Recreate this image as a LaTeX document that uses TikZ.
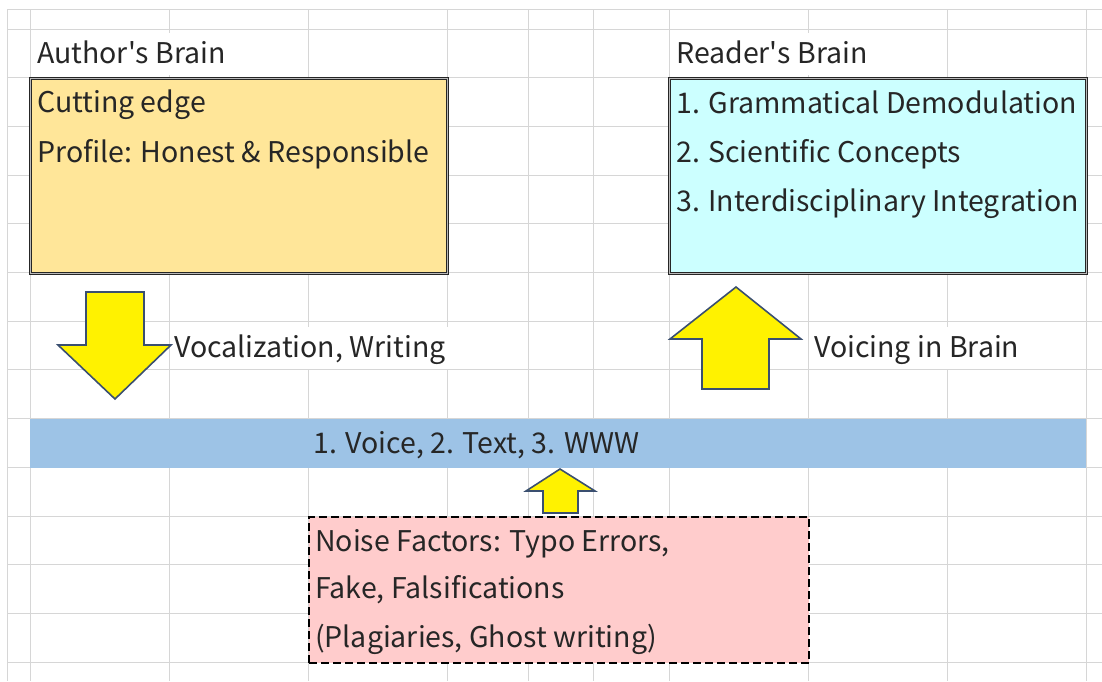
\documentclass[tikz,border=0pt]{standalone}
\usepackage{fontspec}
\setmainfont{Noto Sans CJK JP}
\definecolor{gridgray}{HTML}{D6D6D6}
\definecolor{inkgray}{HTML}{262626}
\definecolor{authorfill}{HTML}{FFE699}
\definecolor{readerfill}{HTML}{CCFFFF}
\definecolor{wwwfill}{HTML}{9DC3E6}
\definecolor{noisefill}{HTML}{FFCCCC}
\definecolor{arrowline}{HTML}{3A4F70}
\tikzset{
  celltext/.style={anchor=base west, inner sep=0pt, text=inkgray,
    font=\fontsize{28.5}{34}\selectfont},
  overtext/.style={celltext, fill=white, inner xsep=4pt, text height=30pt, text depth=12pt},
  brainbox/.style={anchor=north west, draw=black!85, line width=1.1pt,
    double=gray!55, double distance=1.6pt, inner sep=0pt},
  blockarrow/.style={fill=yellow, draw=arrowline, line width=1.6pt, line join=miter}
}
\begin{document}
\begin{tikzpicture}[x=1pt, y=-1pt]
\useasboundingbox (0,0) rectangle (1102,681);
% sheet grid
\foreach \gx in {7,30,169,308,447,528,593,669,808,947,1086}
  \draw[gridgray, line width=1pt] (\gx,9) -- (\gx,681);
\draw[gridgray, line width=1pt] (7,9) -- (1102,9);
\foreach \k in {0,...,13}
  \draw[gridgray, line width=1pt] (7,29+48.7*\k) -- (1102,29+48.7*\k);
% titles and arrow labels
\node[overtext] (authortitle) at (33,63) {Author\textquotesingle s Brain};
\node[overtext] (readertitle) at (672,63) {Reader\textquotesingle s Brain};
\node[overtext] (vocal) at (170,357) {Vocalization, Writing};
\node[overtext] (voicing) at (810,357) {Voicing in Brain};
% brains
\node[brainbox, fill=authorfill, minimum width=417pt, minimum height=195pt] (author) at (30,78) {};
\node[celltext] (cutting) at (37,112) {Cutting edge};
\node[celltext] (profile) at (37,162) {Profile: Honest \& Responsible};
\node[brainbox, fill=readerfill, minimum width=417pt, minimum height=195pt] (reader) at (669,78) {};
\node[celltext] (grammar) at (676,113) {1. Grammatical Demodulation};
\node[celltext] (concepts) at (676,162) {2. Scientific Concepts};
\node[celltext] (integration) at (676,211) {3. Interdisciplinary Integration};
% medium
\node[anchor=north west, fill=wwwfill, minimum width=1056pt, minimum height=49pt, inner sep=0pt] (medium) at (30,419) {};
\node[celltext] (mediumtext) at (313,453) {1. Voice, 2. Text, 3. WWW};
% noise
\node[anchor=north west, fill=noisefill, draw=black, line width=2.4pt, dash pattern=on 8pt off 4pt,
  minimum width=500pt, minimum height=146pt, inner sep=0pt] (noise) at (308,516) {};
\node[celltext] (noiseA) at (315,551) {Noise Factors: Typo Errors,};
\node[celltext] (noiseB) at (315,598) {Fake, Falsifications};
\node[celltext] (noiseC) at (315,647) {(Plagiaries, Ghost writing)};
% block arrows
\draw[blockarrow] (86,292) -- (144,292) -- (144,345) -- (171,345) -- (115,399)
  -- (58,345) -- (86,345) -- cycle;
\draw[blockarrow] (702,389) -- (769,389) -- (769,339) -- (801,339) -- (736,287)
  -- (670,339) -- (702,339) -- cycle;
\draw[blockarrow] (543,513) -- (578,513) -- (578,491) -- (595,491) -- (560,469)
  -- (526,491) -- (543,491) -- cycle;
\end{tikzpicture}
\end{document}
